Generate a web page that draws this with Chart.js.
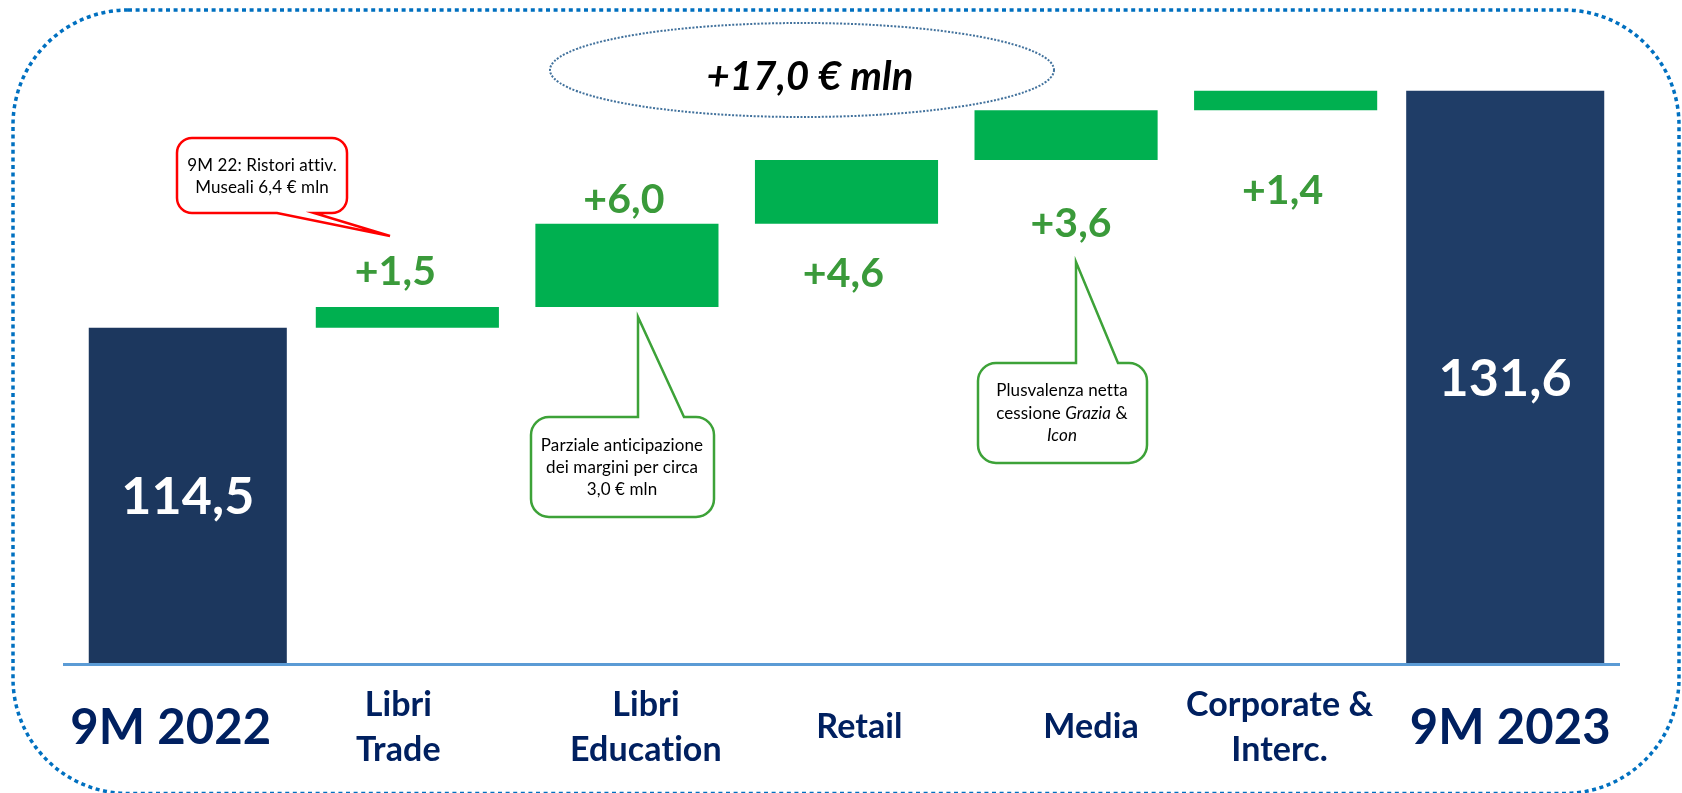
<!DOCTYPE html>
<html><head><meta charset="utf-8">
<script src="https://cdn.jsdelivr.net/npm/chart.js@4.4.0/dist/chart.umd.min.js"></script>
<style>html,body{margin:0;padding:0;background:#fff;} #wrap{width:1682px;height:793px;position:relative;}</style>
</head><body><div id="wrap"><canvas id="c"></canvas></div>
<script>
// ---- data ----
const categories = [["9M 2022"], ["Libri", "Trade"], ["Libri", "Education"], ["Retail"], ["Media"], ["Corporate &", "Interc."], ["9M 2023"]];
const totalValues = [114.5, null, null, null, null, null, 131.6];
const deltaValues = [null, 1.5, 6.0, 4.6, 3.6, 1.4, null];
const totalChangeLabel = "+17,0 € mln";
const yMin = 90.3, yMax = 137.5;

// floating ranges for the waterfall steps, built from the deltas
const deltaRanges = [];
let running = totalValues[0];
deltaValues.forEach(v => {
  if (v === null) { deltaRanges.push(null); }
  else { deltaRanges.push([running, Math.round((running + v) * 10) / 10]); running = Math.round((running + v) * 10) / 10; }
});

const fmt = v => v.toFixed(1).replace('.', ',');
const FONT = 'Lato, "Open Sans", sans-serif';
const NAVY_TXT = '#002060';
const GREEN_TXT = '#3a9a3a';
const GREEN_LINE = '#3da238';

function roundRectPath(ctx, x0, y0, x1, y1, r) {
  ctx.beginPath();
  ctx.moveTo(x0 + r, y0);
  ctx.lineTo(x1 - r, y0);
  ctx.arcTo(x1, y0, x1, y0 + r, r);
  ctx.lineTo(x1, y1 - r);
  ctx.arcTo(x1, y1, x1 - r, y1, r);
  ctx.lineTo(x0 + r, y1);
  ctx.arcTo(x0, y1, x0, y1 - r, r);
  ctx.lineTo(x0, y0 + r);
  ctx.arcTo(x0, y0, x0 + r, y0, r);
  ctx.closePath();
}

function callout(ctx, x0, y0, x1, y1, r, tail, color) {
  ctx.save();
  ctx.beginPath();
  ctx.moveTo(x0 + r, y0);
  if (tail.edge === 'top') { ctx.lineTo(tail.a, y0); ctx.lineTo(tail.px, tail.py); ctx.lineTo(tail.b, y0); }
  ctx.lineTo(x1 - r, y0);
  ctx.arcTo(x1, y0, x1, y0 + r, r);
  ctx.lineTo(x1, y1 - r);
  ctx.arcTo(x1, y1, x1 - r, y1, r);
  if (tail.edge === 'bottom') { ctx.lineTo(tail.b, y1); ctx.lineTo(tail.px, tail.py); ctx.lineTo(tail.a, y1); }
  ctx.lineTo(x0 + r, y1);
  ctx.arcTo(x0, y1, x0, y1 - r, r);
  ctx.lineTo(x0, y0 + r);
  ctx.arcTo(x0, y0, x0 + r, y0, r);
  ctx.closePath();
  ctx.fillStyle = '#ffffff';
  ctx.fill();
  ctx.lineWidth = 2.5;
  ctx.lineJoin = 'miter';
  ctx.strokeStyle = color;
  ctx.stroke();
  ctx.restore();
}

// draws a line made of [text, italic] parts, centred on cx
function richLine(ctx, parts, cx, y, size) {
  let total = 0;
  const widths = parts.map(p => {
    ctx.font = (p[1] ? 'italic ' : '') + size + 'px ' + FONT;
    const w = ctx.measureText(p[0]).width; total += w; return w;
  });
  let x = cx - total / 2;
  ctx.textAlign = 'left';
  parts.forEach((p, i) => {
    ctx.font = (p[1] ? 'italic ' : '') + size + 'px ' + FONT;
    ctx.fillText(p[0], x, y);
    x += widths[i];
  });
}

const decor = {
  id: 'decor',
  afterDatasetsDraw(chart) {
    const ctx = chart.ctx;
    const xs = chart.scales.x, ys = chart.scales.y;
    ctx.save();
    // tiny letter spacing turns off Lato's "ti" ligature
    if ('letterSpacing' in ctx) ctx.letterSpacing = '0.1px';

    // outer dotted rounded frame
    ctx.save();
    roundRectPath(ctx, 13, 10, 1679, 793.5, 115);
    ctx.setLineDash([4, 3.6]);
    ctx.lineWidth = 3.5;
    ctx.strokeStyle = '#0070c0';
    ctx.stroke();
    ctx.restore();

    // baseline
    ctx.beginPath();
    ctx.moveTo(63, chart.chartArea.bottom + 1.5);
    ctx.lineTo(1620, chart.chartArea.bottom + 1.5);
    ctx.lineWidth = 3;
    ctx.strokeStyle = '#5b9bd5';
    ctx.stroke();

    // category labels
    const catDx = [-17, -9, 19, 13, 25, -6, 5];
    ctx.fillStyle = NAVY_TXT;
    ctx.textAlign = 'center';
    ctx.textBaseline = 'alphabetic';
    categories.forEach((lines, i) => {
      const x = xs.getPixelForValue(i) + catDx[i];
      if (totalValues[i] !== null) {
        ctx.font = 'bold 49px ' + FONT;
        ctx.fillText(lines[0], x, 744);
      } else {
        ctx.font = 'bold 34px ' + FONT;
        if (lines.length === 2) {
          ctx.fillText(lines[0], x, 716);
          ctx.fillText(lines[1], x, 761);
        } else {
          ctx.fillText(lines[0], x, 738);
        }
      }
    });

    // total values inside the navy bars
    ctx.fillStyle = '#ffffff';
    ctx.font = 'bold 52px ' + FONT;
    totalValues.forEach((v, i) => {
      if (v === null) return;
      const x = xs.getPixelForValue(i);
      const mid = (ys.getPixelForValue(v) + chart.chartArea.bottom) / 2;
      ctx.fillText(fmt(v), x, mid + 19);
    });

    // delta labels (above for first two, below for the rest)
    const dLab = { 1: [-12, 'top', -22], 2: [-3, 'top', -11], 3: [-3, 'bottom', 63], 4: [5, 'bottom', 77], 5: [-3, 'bottom', 94] };
    ctx.fillStyle = GREEN_TXT;
    ctx.font = 'bold 41px ' + FONT;
    deltaValues.forEach((v, i) => {
      if (v === null) return;
      const r = deltaRanges[i];
      const o = dLab[i];
      const x = xs.getPixelForValue(i) + o[0];
      const y = (o[1] === 'top' ? ys.getPixelForValue(r[1]) : ys.getPixelForValue(r[0])) + o[2];
      ctx.fillText('+' + fmt(v), x, y);
    });

    // total change ellipse
    ctx.save();
    ctx.beginPath();
    ctx.ellipse(802, 70, 252, 47, 0, 0, Math.PI * 2);
    ctx.setLineDash([2, 1.6]);
    ctx.lineWidth = 2;
    ctx.strokeStyle = '#41719c';
    ctx.stroke();
    ctx.restore();
    ctx.fillStyle = '#000000';
    ctx.font = 'italic bold 40px ' + FONT;
    ctx.fillText(totalChangeLabel, 810, 90);

    // callouts
    callout(ctx, 177, 138, 347, 213, 15, { edge: 'bottom', a: 277, b: 314, px: 390, py: 236 }, '#ff0000');
    callout(ctx, 531, 417, 714, 517, 18, { edge: 'top', a: 638, b: 684, px: 638, py: 317 }, GREEN_LINE);
    callout(ctx, 978, 363, 1147, 463, 18, { edge: 'top', a: 1076, b: 1118, px: 1076, py: 262 }, GREEN_LINE);

    ctx.fillStyle = '#000000';
    ctx.textBaseline = 'middle';
    const fs = 17;
    richLine(ctx, [["9M 22: Ristori attiv.", false]], 262, 166, fs);
    richLine(ctx, [["Museali 6,4 € mln", false]], 262, 188, fs);
    richLine(ctx, [["Parziale anticipazione", false]], 622, 446, fs);
    richLine(ctx, [["dei margini per circa", false]], 622, 468, fs);
    richLine(ctx, [["3,0 € mln", false]], 622, 490, fs);
    richLine(ctx, [["Plusvalenza netta", false]], 1062, 391, fs);
    richLine(ctx, [["cessione ", false], ["Grazia", true], [" &", false]], 1062, 414, fs);
    richLine(ctx, [["Icon", true]], 1062, 436, fs);

    ctx.restore();
  }
};

new Chart(document.getElementById('c'), {
  type: 'bar',
  data: {
    labels: categories,
    datasets: [
      { data: totalValues, base: yMin, backgroundColor: ['#1c375e', null, null, null, null, null, '#1f3d67'],
        barPercentage: 0.902, categoryPercentage: 1, grouped: false },
      { data: deltaRanges, backgroundColor: '#00b050', barPercentage: 0.834, categoryPercentage: 1, grouped: false }
    ]
  },
  options: {
    responsive: true, maintainAspectRatio: false, animation: false,
    layout: { padding: { left: 78, right: 67, top: 9, bottom: 130 } },
    plugins: { legend: { display: false }, tooltip: { enabled: false } },
    scales: { x: { display: false }, y: { display: false, min: yMin, max: yMax } }
  },
  plugins: [decor]
});
</script>
</body></html>
